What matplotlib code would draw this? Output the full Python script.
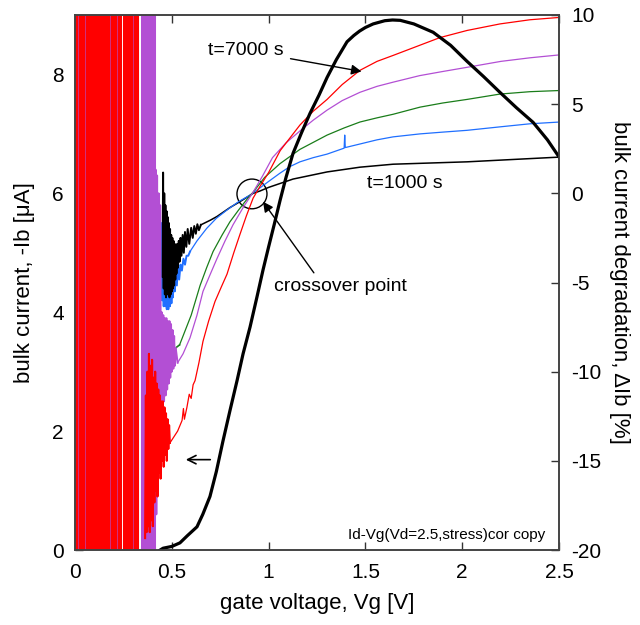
import numpy as np
import matplotlib
matplotlib.use('Agg')
import matplotlib.pyplot as plt
from matplotlib.patches import Ellipse

plt.rcParams['font.family'] = ['Liberation Sans', 'DejaVu Sans']
plt.rcParams['axes.unicode_minus'] = False

# bulk current traces, -Ib [uA] vs Vg [V]
# low-Vg part: the traces swing past both axis limits (solid vertical bands)
red_sat_x = [0.000, 0.010, 0.020, 0.030, 0.040, 0.050, 0.060, 0.070, 0.080, 0.090, 0.100, 0.110,
             0.120, 0.130, 0.140, 0.150, 0.160, 0.170, 0.180, 0.190, 0.200, 0.210, 0.220, 0.232,
             0.252, 0.262, 0.272, 0.282, 0.292, 0.302, 0.312, 0.322]
pur_sat_x = [0.346, 0.354, 0.362, 0.370, 0.378, 0.386, 0.394, 0.402, 0.410]
pur_streak_x = [0.016, 0.052, 0.181, 0.216, 0.300]

# noisy part just above threshold
blk_noise_x = [0.452, 0.455, 0.458, 0.461, 0.464, 0.467, 0.470, 0.473, 0.476, 0.479, 0.482, 0.485,
               0.488, 0.491, 0.494, 0.497, 0.500, 0.503, 0.506, 0.509, 0.512, 0.515, 0.518, 0.521,
               0.524, 0.528, 0.532, 0.536, 0.540, 0.545, 0.550, 0.556, 0.562, 0.568, 0.575, 0.582,
               0.590, 0.600, 0.608, 0.616, 0.624, 0.632, 0.640, 0.650]
blk_noise_y = [4.60, 6.35, 4.40, 6.00, 4.30, 5.80, 4.25, 5.70, 4.30, 5.60, 4.30, 5.50,
               4.25, 5.40, 4.30, 5.30, 4.35, 5.25, 4.40, 5.20, 4.45, 5.15, 4.55, 5.10,
               4.65, 5.15, 4.75, 5.20, 4.85, 5.25, 4.95, 5.30, 5.00, 5.35, 5.10, 5.40,
               5.15, 5.42, 5.25, 5.45, 5.32, 5.48, 5.38, 5.47]
blu_noise_x = [0.430, 0.434, 0.438, 0.442, 0.446, 0.450, 0.454, 0.458, 0.462, 0.466, 0.470, 0.474,
               0.478, 0.482, 0.486, 0.490, 0.494, 0.498, 0.502, 0.506, 0.510, 0.515, 0.520, 0.526,
               0.532, 0.538, 0.545, 0.552, 0.560, 0.568, 0.576, 0.585, 0.594]
blu_noise_y = [5.70, 4.40, 5.60, 4.30, 5.50, 4.20, 5.40, 4.10, 5.30, 4.10, 5.20, 4.05,
               5.10, 4.05, 5.00, 4.10, 4.90, 4.15, 4.85, 4.25, 4.80, 4.35, 4.75, 4.45,
               4.80, 4.55, 4.80, 4.70, 4.90, 4.80, 4.95, 4.95, 5.02]
grn_noise_x = [0.450, 0.460, 0.470, 0.480, 0.490, 0.500, 0.510, 0.520, 0.540]
grn_noise_y = [2.70, 3.60, 2.80, 3.50, 2.90, 3.50, 3.10, 3.40, 3.45]
pur_noise_x = [0.412, 0.416, 0.420, 0.424, 0.428, 0.432, 0.436, 0.440, 0.444, 0.448, 0.452, 0.456,
               0.460, 0.464, 0.468, 0.472, 0.476, 0.480, 0.484, 0.488, 0.492, 0.496, 0.500, 0.504,
               0.508, 0.512, 0.516, 0.520, 0.530]
pur_noise_y = [0.30, 6.40, 0.60, 6.30, 1.20, 6.00, 1.80, 5.80, 2.30, 4.00, 2.50, 3.95,
               2.50, 3.90, 2.60, 3.90, 2.70, 3.85, 2.80, 3.85, 2.90, 3.80, 3.00, 3.70,
               3.05, 3.60, 3.10, 3.40, 3.15]
red_noise_x = [0.362, 0.366, 0.370, 0.374, 0.378, 0.382, 0.386, 0.390, 0.394, 0.398, 0.402, 0.406,
               0.410, 0.414, 0.418, 0.422, 0.426, 0.430, 0.434, 0.438, 0.442, 0.446, 0.450, 0.454,
               0.458, 0.462, 0.466, 0.470, 0.474, 0.478, 0.482, 0.486, 0.490]
red_noise_y = [0.20, 2.60, 0.30, 3.00, 0.40, 3.30, 0.30, 3.10, 0.50, 3.20, 0.40, 2.90,
               0.80, 3.00, 1.00, 2.80, 0.90, 2.70, 1.30, 2.60, 1.20, 2.50, 1.50, 2.50,
               1.40, 2.40, 1.60, 2.30, 1.50, 2.20, 1.70, 2.10, 1.80]

# smooth part
blk_x = [0.650, 0.700, 0.733, 0.800, 0.852, 0.920, 0.956, 1.000, 1.126, 1.302, 1.472,
         1.643, 2.025, 2.505]
blk_y = [5.47, 5.55, 5.61, 5.76, 5.86, 6.00, 6.04, 6.10, 6.24, 6.36, 6.44,
         6.49, 6.53, 6.61]
blu_x = [0.594, 0.630, 0.680, 0.730, 0.785, 0.845, 0.904, 0.950, 1.000, 1.059, 1.110, 1.162,
         1.230, 1.302, 1.390, 1.393, 1.396, 1.472, 1.560, 1.643, 1.782, 1.900, 2.025, 2.200,
         2.350, 2.505]
blu_y = [5.02, 5.20, 5.41, 5.58, 5.72, 5.86, 5.97, 6.08, 6.20, 6.34, 6.45, 6.53,
         6.60, 6.66, 6.76, 6.98, 6.77, 6.83, 6.90, 6.95, 7.00, 7.03, 7.06, 7.12,
         7.17, 7.20]
grn_x = [0.540, 0.570, 0.600, 0.646, 0.680, 0.713, 0.760, 0.800, 0.845, 0.888, 0.920, 0.980,
         1.059, 1.162, 1.302, 1.390, 1.472, 1.560, 1.643, 1.782, 1.900, 2.025, 2.195, 2.350,
         2.505]
grn_y = [3.45, 3.70, 3.95, 4.45, 4.75, 5.02, 5.30, 5.52, 5.72, 5.90, 6.02, 6.27,
         6.50, 6.74, 6.98, 7.10, 7.20, 7.27, 7.33, 7.45, 7.52, 7.58, 7.67, 7.71,
         7.73]
pur_x = [0.530, 0.558, 0.594, 0.630, 0.661, 0.700, 0.733, 0.775, 0.816, 0.870, 0.920, 0.970,
         1.020, 1.090, 1.162, 1.230, 1.302, 1.380, 1.472, 1.560, 1.643, 1.780, 1.900, 2.025,
         2.200, 2.350, 2.505]
pur_y = [3.15, 3.30, 3.57, 3.95, 4.35, 4.65, 4.90, 5.20, 5.47, 5.77, 6.02, 6.30,
         6.60, 6.85, 7.05, 7.23, 7.40, 7.56, 7.70, 7.80, 7.87, 7.98, 8.05, 8.12,
         8.22, 8.28, 8.33]
red_x = [0.490, 0.510, 0.530, 0.553, 0.560, 0.565, 0.578, 0.590, 0.600, 0.610, 0.620, 0.640,
         0.661, 0.690, 0.723, 0.755, 0.785, 0.820, 0.852, 0.885, 0.920, 0.956, 1.000, 1.060,
         1.162, 1.230, 1.302, 1.380, 1.472, 1.560, 1.643, 1.780, 1.885, 2.025, 2.195, 2.350,
         2.505]
red_y = [1.80, 1.90, 2.00, 2.18, 2.38, 2.20, 2.40, 2.62, 2.55, 2.78, 2.85, 3.15,
         3.51, 3.85, 4.18, 4.42, 4.64, 5.00, 5.31, 5.62, 5.92, 6.12, 6.35, 6.72,
         7.15, 7.38, 7.58, 7.83, 8.07, 8.22, 8.32, 8.49, 8.62, 8.74, 8.85, 8.92,
         8.96]

# bulk current degradation [%] (thick black, right axis)
deg_x = [0.440, 0.455, 0.500, 0.542, 0.580, 0.630, 0.660, 0.697, 0.730, 0.764, 0.800, 0.837,
         0.868, 0.904, 0.940, 0.971, 1.000, 1.030, 1.059, 1.090, 1.126, 1.170, 1.214, 1.260,
         1.302, 1.350, 1.405, 1.440, 1.470, 1.500, 1.540, 1.600, 1.640, 1.680, 1.750, 1.850,
         1.940, 2.025, 2.110, 2.195, 2.280, 2.366, 2.440, 2.505]
deg_y = [-20.0, -19.9, -19.8, -19.6, -19.2, -18.7, -18.0, -17.0, -15.6, -13.9, -12.2, -10.5,
         -9.0, -7.5, -5.8, -4.3, -3.0, -1.7, -0.4, 0.9, 2.24, 3.4, 4.49, 5.5,
         6.5, 7.5, 8.5, 8.85, 9.1, 9.3, 9.5, 9.68, 9.72, 9.70, 9.5, 9.03,
         8.3, 7.4, 6.55, 5.66, 4.8, 3.98, 3.0, 1.96]

c_blk, c_blu, c_grn, c_pur, c_red = 'black', '#1f6fff', '#1a7d1a', '#b34fd4', '#ff0000'

fig = plt.figure(figsize=(6.4, 6.25), dpi=100)
ax = fig.add_axes([0.1172, 0.12, 0.7563, 0.856])

ax.plot(blu_noise_x, blu_noise_y, color=c_blu, lw=1.4)
ax.plot(blk_noise_x, blk_noise_y, color=c_blk, lw=1.4)
ax.plot(blk_x, blk_y, color=c_blk, lw=1.1)
ax.plot(blu_x, blu_y, color=c_blu, lw=0.9)
ax.plot(grn_noise_x, grn_noise_y, color=c_grn, lw=1.2)
ax.plot(grn_x, grn_y, color=c_grn, lw=0.9)
ax.vlines(pur_sat_x, -1, 10, color=c_pur, lw=2.2)
ax.plot(pur_noise_x, pur_noise_y, color=c_pur, lw=1.4)
ax.plot(pur_x, pur_y, color=c_pur, lw=0.9)
ax.vlines(red_sat_x, -1, 10, color=c_red, lw=2.2)
ax.vlines(pur_streak_x, -1, 10, color=c_pur, lw=0.6, alpha=0.7)
ax.plot(red_noise_x, red_noise_y, color=c_red, lw=1.5)
ax.plot(red_x, red_y, color=c_red, lw=0.9)

ax.set_xlim(0, 2.5)
ax.set_ylim(0, 9)
ax.set_xticks([0, 0.5, 1, 1.5, 2, 2.5])
ax.set_xticklabels(['0', '0.5', '1', '1.5', '2', '2.5'])
ax.set_yticks([0, 2, 4, 6, 8])
ax.tick_params(direction='in', length=6, width=1, labelsize=15, top=True, color='#333333')
ax.tick_params(axis='x', pad=9)
ax.tick_params(axis='y', pad=8)
ax.set_xlabel('gate voltage, Vg [V]', fontsize=16, labelpad=8)
ax.set_ylabel('bulk current, -Ib [\u03bcA]', fontsize=16, labelpad=12)

ax2 = ax.twinx()
ax2.plot(deg_x, deg_y, color=c_blk, lw=2.3)
ax2.set_ylim(-20, 10)
ax2.set_yticks([-20, -15, -10, -5, 0, 5, 10])
ax2.tick_params(direction='in', length=6, width=1, labelsize=15, color='#333333', pad=9)
ax2.set_ylabel('bulk current degradation, \u0394Ib [%]', fontsize=16, rotation=270, labelpad=20)

for a in (ax, ax2):
    for s in a.spines.values():
        s.set_color('#444444')
        s.set_linewidth(1.2)

ax.add_patch(Ellipse((0.914, 5.99), 0.155, 0.5, fill=False, ec='black', lw=1))

ax.annotate('t=7000 s', xy=(1.48, 8.05), xytext=(0.687, 8.4), fontsize=14,
            ha='left', va='center',
            arrowprops=dict(arrowstyle='-|>', color='black', lw=1, mutation_scale=15,
                            shrinkA=3, shrinkB=0))
ax.text(1.508, 6.16, 't=1000 s', fontsize=14, ha='left', va='center')
ax.annotate('crossover point', xy=(0.971, 5.86), xytext=(1.369, 4.435), fontsize=14,
            ha='center', va='center',
            arrowprops=dict(arrowstyle='-|>', color='black', lw=1, mutation_scale=15,
                            relpos=(0.33, 1.0), shrinkA=2, shrinkB=0))
ax.annotate('', xy=(0.558, 1.52), xytext=(0.713, 1.52),
            arrowprops=dict(arrowstyle='->', color='black', lw=1.2, mutation_scale=15))
ax.text(1.917, 0.25, 'Id-Vg(Vd=2.5,stress)cor copy', fontsize=11, ha='center', va='center')

fig.savefig('out.png', dpi=100)
